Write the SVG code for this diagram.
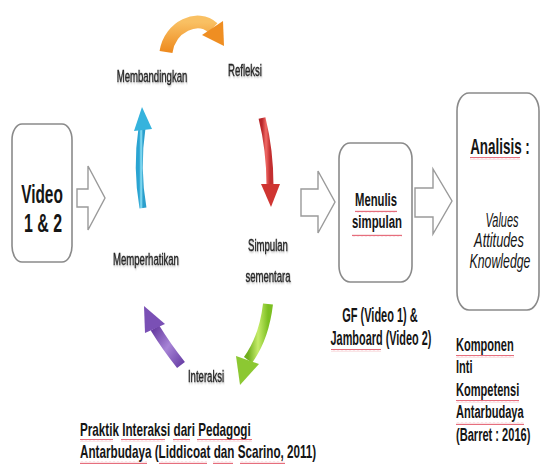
<svg xmlns="http://www.w3.org/2000/svg" width="540" height="472" viewBox="0 0 540 472">
<defs>
<style>
.box{fill:#fff;stroke:#8a8a8a;stroke-width:1.6}
.hollow{fill:#fff;stroke:#9a9a9a;stroke-width:1.4;stroke-linejoin:miter}
.t{font-family:"Liberation Sans",Arial,sans-serif;fill:#151515}
.b{font-weight:bold}
.lbl{font-family:"Liberation Sans",Arial,sans-serif;fill:#262626;stroke:#262626;stroke-width:0.35;font-size:16.5px;filter:url(#sh)}
.it{font-style:italic}
.sq{fill:url(#squig)}
</style>
<filter id="sh" x="-10%" y="-30%" width="130%" height="170%">
<feDropShadow dx="0.8" dy="1.2" stdDeviation="0.9" flood-color="#000" flood-opacity="0.3"/>
</filter>
<pattern id="squig" width="4" height="3" patternUnits="userSpaceOnUse">
<path d="M0,2.2 L1,0.8 L2,2.2 L3,0.8 L4,2.2" fill="none" stroke="#e0475a" stroke-width="0.8"/>
</pattern>
<linearGradient id="gBlue" x1="0" y1="0" x2="1" y2="0">
<stop offset="0" stop-color="#2aa4d2"/><stop offset="0.5" stop-color="#8fe2f7"/><stop offset="1" stop-color="#2b9fcc"/>
</linearGradient>
<linearGradient id="gRed" x1="0" y1="0" x2="1" y2="0">
<stop offset="0" stop-color="#b8262a"/><stop offset="0.5" stop-color="#f06a66"/><stop offset="1" stop-color="#c32f30"/>
</linearGradient>
<linearGradient id="gGreen" x1="0" y1="0" x2="1" y2="0">
<stop offset="0" stop-color="#6fae1c"/><stop offset="0.5" stop-color="#c6ec6a"/><stop offset="1" stop-color="#7cbf22"/>
</linearGradient>
<linearGradient id="gPurple" x1="0" y1="0" x2="1" y2="1">
<stop offset="0" stop-color="#6a3fa3"/><stop offset="0.5" stop-color="#a784d6"/><stop offset="1" stop-color="#6c43a8"/>
</linearGradient>
<linearGradient id="gOrange" x1="0" y1="0" x2="0" y2="1">
<stop offset="0" stop-color="#f9c063"/><stop offset="1" stop-color="#ee8a1e"/>
</linearGradient>
</defs>
<rect width="540" height="472" fill="#fff"/>

<g id="connectors">
<path class="hollow" d="M77,189 H88 V166 L105,198 L88,230 V207 H77 Z"/>
<path class="hollow" d="M301,189 H318 V171 L335,202 L318,233 V216 H301 Z"/>
<path class="hollow" d="M415,188 H433 V169 L452,201 L433,234 V217 H415 Z"/>
<path d="M166,52 C170,26 198,14 213,28" fill="none" stroke="url(#gOrange)" stroke-width="13"/>
<polygon points="223,21 224,46 202,35" fill="#ef8e22"/>
<path d="M143,208 Q136,168 142,128" fill="none" stroke="url(#gBlue)" stroke-width="7"/>
<polygon points="134,131 142,107 152,129" fill="#35b3dd"/>
<path d="M262,118 Q270,150 270,186" fill="none" stroke="url(#gRed)" stroke-width="7"/>
<polygon points="261,184 280,184 271,207" fill="#cf3532"/>
<path d="M268,304 Q264,338 248,360" fill="none" stroke="url(#gGreen)" stroke-width="10"/>
<polygon points="236,356 259,364 240,385" fill="#8cc832"/>
<path d="M181,365 Q166,346 155,328" fill="none" stroke="url(#gPurple)" stroke-width="10"/>
<polygon points="165,324 145,333 144,306" fill="#7a50b5"/>
</g>

<g id="video">
<rect class="box" x="12" y="124" width="60" height="138" rx="10" ry="16"/>
<text class="t b" font-size="25" text-anchor="middle" transform="translate(42,203) scale(0.617,1)">Video</text>
<text class="t b" font-size="25" text-anchor="middle" transform="translate(43,232) scale(0.636,1)">1 &amp; 2</text>
</g>

<g id="membandingkan">
<text class="lbl" text-anchor="middle" transform="translate(152,82) scale(0.58,1)">Membandingkan</text>
</g>
<g id="refleksi">
<text class="lbl" text-anchor="middle" transform="translate(245,76) scale(0.58,1)">Refleksi</text>
</g>
<g id="simpulan-sementara">
<text class="lbl" text-anchor="middle" transform="translate(268,251) scale(0.58,1)">Simpulan</text>
<text class="lbl" text-anchor="middle" transform="translate(268,282) scale(0.58,1)">sementara</text>
</g>
<g id="memperhatikan">
<text class="lbl" text-anchor="middle" transform="translate(146,265) scale(0.58,1)">Memperhatikan</text>
</g>
<g id="interaksi">
<text class="lbl" text-anchor="middle" transform="translate(206,382) scale(0.58,1)">Interaksi</text>
</g>

<g id="menulis-simpulan">
<rect class="box" x="339" y="143" width="73" height="139" rx="11" ry="16"/>
<text class="t b" font-size="19" text-anchor="middle" transform="translate(376,206) scale(0.594,1)">Menulis</text>
<text class="t b" font-size="19" text-anchor="middle" transform="translate(377,228) scale(0.6,1)">simpulan</text>
<rect class="sq" x="355" y="210" width="42" height="3"/>
<rect class="sq" x="352" y="234" width="50" height="3"/>
</g>

<g id="analisis">
<rect class="box" x="457" y="93" width="82" height="217" rx="12" ry="18"/>
<text class="t b" font-size="22" text-anchor="middle" transform="translate(500,154) scale(0.61,1)">Analisis :</text>
<rect class="sq" x="470" y="157" width="50" height="3"/>
<text class="t it" font-size="20" text-anchor="middle" transform="translate(502,227) scale(0.55,1)">Values</text>
<text class="t it" font-size="20" text-anchor="middle" transform="translate(499,247) scale(0.64,1)">Attitudes</text>
<text class="t it" font-size="20" text-anchor="middle" transform="translate(500,268) scale(0.615,1)">Knowledge</text>
</g>

<g id="note-gf">
<text class="t b" font-size="20" text-anchor="middle" transform="translate(380,322) scale(0.55,1)">GF (Video 1) &amp;</text>
<text class="t b" font-size="20" text-anchor="middle" transform="translate(381,345) scale(0.545,1)">Jamboard (Video 2)</text>
<rect class="sq" x="331" y="349" width="50" height="3"/>
</g>

<g id="note-komponen">
<text class="t b" font-size="18" transform="translate(456,351) scale(0.615,1)">Komponen</text>
<text class="t b" font-size="18" transform="translate(456,373) scale(0.615,1)">Inti</text>
<text class="t b" font-size="18" transform="translate(456,396) scale(0.615,1)">Kompetensi</text>
<text class="t b" font-size="18" transform="translate(456,418) scale(0.615,1)">Antarbudaya</text>
<text class="t b" font-size="18" transform="translate(456,441) scale(0.615,1)">(Barret : 2016)</text>
<rect class="sq" x="456" y="355" width="58" height="3"/>
<rect class="sq" x="456" y="400" width="63" height="3"/>
<rect class="sq" x="456" y="422" width="68" height="3"/>
</g>

<g id="note-praktik">
<text class="t b" font-size="19" transform="translate(80,436) scale(0.615,1)">Praktik Interaksi dari Pedagogi</text>
<text class="t b" font-size="19" transform="translate(80,458) scale(0.615,1)">Antarbudaya (Liddicoat dan Scarino, 2011)</text>
<rect class="sq" x="80" y="439" width="33" height="3"/>
<rect class="sq" x="121" y="439" width="44" height="3"/>
<rect class="sq" x="173" y="439" width="17" height="3"/>
<rect class="sq" x="197" y="439" width="55" height="3"/>
<rect class="sq" x="80" y="461" width="67" height="3"/>
<rect class="sq" x="159" y="461" width="48" height="3"/>
<rect class="sq" x="213" y="461" width="20" height="3"/>
<rect class="sq" x="240" y="461" width="45" height="3"/>
</g>
</svg>
